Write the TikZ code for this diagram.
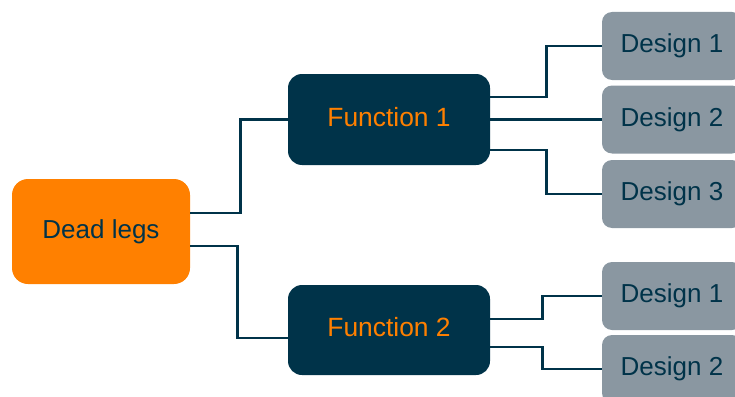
\documentclass[tikz,border=0pt]{standalone}
\usepackage{fontspec}
\setmainfont{Liberation Sans}
\definecolor{navy}{HTML}{003349}
\definecolor{orng}{HTML}{FF8000}
\definecolor{greyb}{HTML}{8A97A1}
\begin{document}
\begin{tikzpicture}[x=1pt,y=-1pt,
  base/.style={rounded corners=14pt, inner sep=0pt, font=\fontsize{26}{30}\selectfont},
  rootbox/.style={base, fill=orng, text=navy, minimum width=178pt, minimum height=105pt, rounded corners=16pt},
  funcbox/.style={base, fill=navy, text=orng, minimum width=202pt, minimum height=91pt, font=\fontsize{26.4}{30}\selectfont},
  desbox/.style={base, fill=greyb, text=navy, minimum width=140pt, minimum height=68pt, rounded corners=10pt},
  conn/.style={draw=navy, line width=2.6pt}]
\useasboundingbox (0,0) rectangle (735,396);
\clip (0,0) rectangle (735,396);
\node[rootbox] (dl) at (101,231.5) {\raisebox{-4pt}{Dead legs}};
\node[funcbox] (f1) at (389,119.5) {\raisebox{6pt}{Function 1}};
\node[funcbox, minimum height=90pt] (f2) at (389,330) {\raisebox{6pt}{Function 2}};
\node[desbox] (d11) at (672,46) {Design 1};
\node[desbox] (d12) at (672,119.5) {Design 2};
\node[desbox] (d13) at (672,194) {Design 3};
\node[desbox] (d21) at (672,296) {Design 1};
\node[desbox] (d22) at (672,369) {Design 2};
% connectors
\draw[conn] ([yshift=18.5pt]dl.east) -- ++(50,0) |- (f1.west);
\draw[conn] ([yshift=-14.5pt]dl.east) -- ++(47,0) |- ([yshift=-8pt]f2.west);
\draw[conn] ([yshift=22.5pt]f1.east) -- ++(56,0) |- (d11.west);
\draw[conn] (f1.east) -- (d12.west);
\draw[conn] ([yshift=-30.5pt]f1.east) -- ++(56,0) |- (d13.west);
\draw[conn] ([yshift=11pt]f2.east) -- ++(52,0) |- (d21.west);
\draw[conn] ([yshift=-17pt]f2.east) -- ++(52,0) |- (d22.west);
\end{tikzpicture}
\end{document}
